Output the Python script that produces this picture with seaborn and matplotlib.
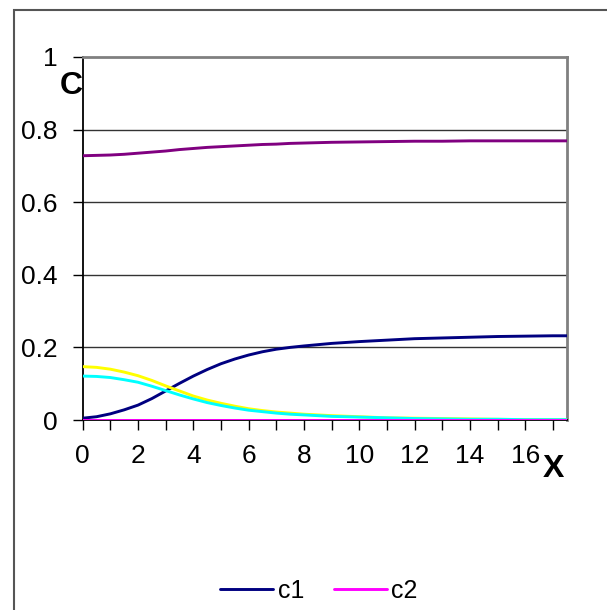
import numpy as np
import pandas as pd
import matplotlib
matplotlib.use('Agg')
import matplotlib.pyplot as plt
from matplotlib.patches import Rectangle
import seaborn as sns

# values
x = [0, 0.5, 1, 1.5, 2, 2.5, 3, 3.5, 4, 4.5, 5, 5.5, 6, 6.5, 7, 7.5, 8,
     9, 10, 11, 12, 13, 14, 15, 16, 17, 17.5]
c1 = [0.005, 0.009, 0.017, 0.028, 0.041, 0.059, 0.080, 0.101, 0.121, 0.139,
      0.155, 0.168, 0.179, 0.188, 0.195, 0.200, 0.204,
      0.211, 0.216, 0.220, 0.224, 0.226, 0.228, 0.230, 0.231, 0.232, 0.232]
c2 = [0.0] * 27
c3 = [0.728, 0.729, 0.730, 0.732, 0.735, 0.738, 0.741, 0.745, 0.748, 0.751,
      0.753, 0.755, 0.757, 0.759, 0.760, 0.762, 0.763,
      0.765, 0.766, 0.767, 0.768, 0.768, 0.769, 0.769, 0.769, 0.769, 0.769]
c4 = [0.147, 0.145, 0.140, 0.132, 0.122, 0.109, 0.094, 0.080, 0.066, 0.055,
      0.046, 0.038, 0.031, 0.026, 0.022, 0.019, 0.016,
      0.012, 0.009, 0.006, 0.005, 0.004, 0.003, 0.002, 0.001, 0.001, 0.001]
c5 = [0.121, 0.120, 0.117, 0.111, 0.104, 0.093, 0.081, 0.069, 0.058, 0.048,
      0.040, 0.033, 0.027, 0.023, 0.019, 0.016, 0.014,
      0.010, 0.008, 0.006, 0.004, 0.003, 0.002, 0.002, 0.001, 0.001, 0.001]

yticks = [0, 0.2, 0.4, 0.6, 0.8, 1]
ytick_labels = ['0', '0.2', '0.4', '0.6', '0.8', '1']
xticks = list(range(0, 18))
xtick_labels = [str(t) if t % 2 == 0 else '' for t in xticks]

sns.set_style('white')
plt.rcParams['font.family'] = ['Liberation Sans', 'DejaVu Sans']
plt.rcParams['text.color'] = 'black'

fig = plt.figure(figsize=(6.07, 6.10), dpi=100)
ax = fig.add_axes([82.7 / 607, 1 - 420 / 610, 484 / 607, 363 / 610])

lw = 2.1
sns.lineplot(x=x, y=c1, color='#000080', lw=lw, label='c1', ax=ax, zorder=3)
sns.lineplot(x=x, y=c3, color='#800080', lw=lw, legend=False, ax=ax, zorder=3)
sns.lineplot(x=x, y=c4, color='#FFFF00', lw=lw, legend=False, ax=ax, zorder=3)
sns.lineplot(x=x, y=c5, color='#00FFFF', lw=lw, legend=False, ax=ax, zorder=3)
sns.lineplot(x=x, y=c2, color='#FF00FF', lw=lw, label='c2', ax=ax, zorder=4)

ax.set_xlim(0, 17.5)
ax.set_ylim(0, 1)
ax.set_xticks(xticks)
ax.set_xticklabels(xtick_labels)
ax.set_yticks(yticks)
ax.set_yticklabels(ytick_labels)
ax.tick_params(axis='both', labelsize=19, direction='out', length=7,
               width=1, color='black', labelcolor='black',
               left=True, bottom=True)
ax.tick_params(axis='y', pad=11)
ax.tick_params(axis='x', pad=10)
ax.set_xlabel('')
ax.set_ylabel('')

for g in [0.2, 0.4, 0.6, 0.8]:
    ax.axhline(g, color='#333333', lw=1, zorder=1)

ax.spines['left'].set_color('black')
ax.spines['bottom'].set_color('black')
ax.spines['left'].set_linewidth(1.3)
ax.spines['bottom'].set_linewidth(1.3)
ax.spines['top'].set_color('#808080')
ax.spines['right'].set_color('#808080')
ax.spines['top'].set_linewidth(2)
ax.spines['right'].set_linewidth(2)
for s in ax.spines.values():
    s.set_visible(True)

fig.text(71 / 607, 1 - 86 / 610, 'C', fontsize=23, fontweight='bold',
         ha='center', va='center', color='black')
fig.text(553 / 607, 1 - 469 / 610, 'X', fontsize=23, fontweight='bold',
         ha='center', va='center', color='black')

leg = ax.legend(loc='center', bbox_to_anchor=(319 / 607, 1 - 591 / 610),
                bbox_transform=fig.transFigure, ncol=2, frameon=False,
                fontsize=18, handlelength=2.1, handletextpad=0.2,
                columnspacing=1.2)
for t in leg.get_texts():
    t.set_color('black')

# outer chart border (left and top only visible)
fig.add_artist(Rectangle((14 / 607, -0.05), 1.2, 1.05 - 9.5 / 610,
                         transform=fig.transFigure, fill=False,
                         edgecolor='#555555', lw=1.5, clip_on=False))

fig.savefig('out.png', dpi=100)
